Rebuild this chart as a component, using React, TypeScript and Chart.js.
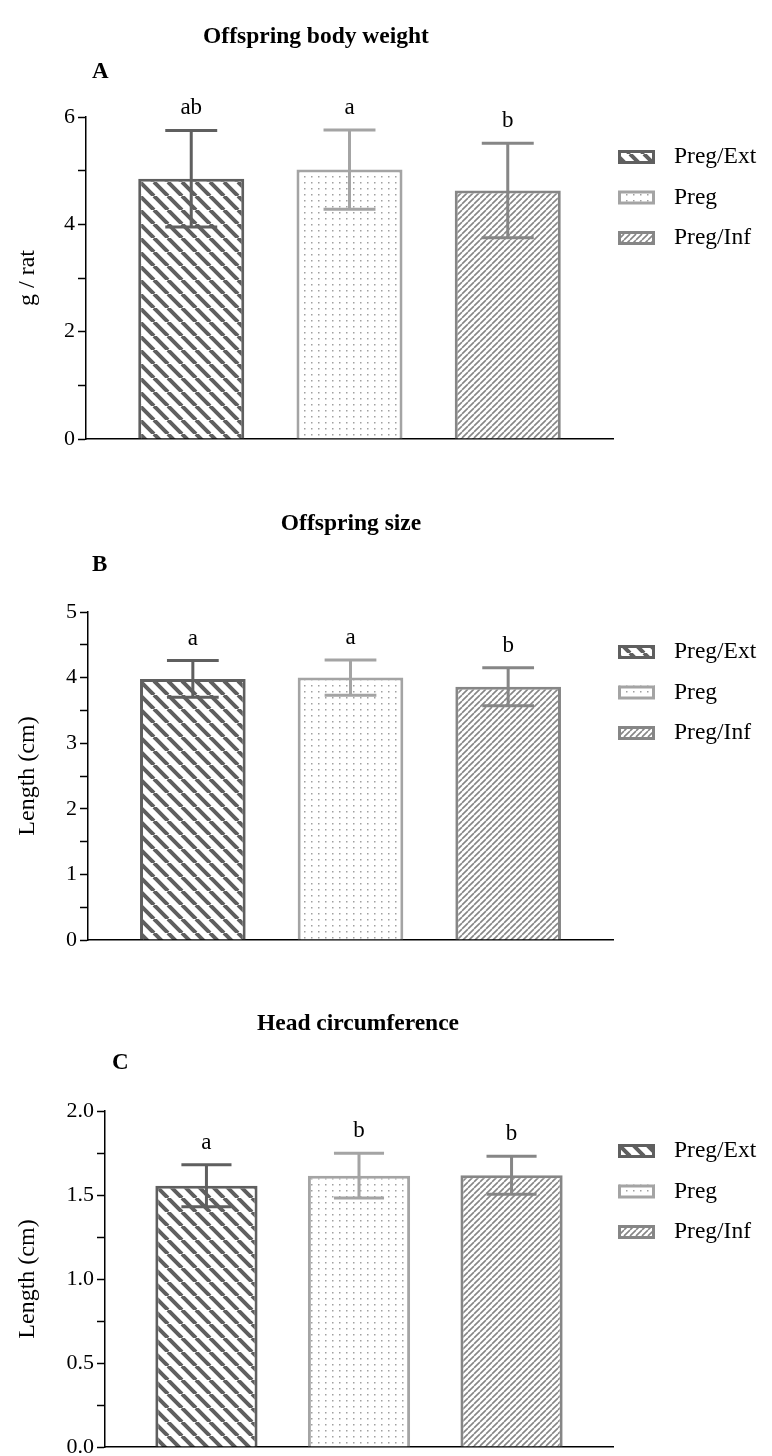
import { useEffect, useRef } from 'react';
import { Chart, registerables } from 'chart.js';

Chart.register(...registerables);

// ---------- data ----------
const groups = ['Preg/Ext', 'Preg', 'Preg/Inf'];
const groupColors = ['#5f5f5f', '#a4a4a4', '#868686'];

const weightMeans = [4.85, 5.02, 4.63];
const weightErrors = [0.9, 0.74, 0.88];
const weightLetters = ['ab', 'a', 'b'];

const sizeMeans = [3.98, 4.0, 3.86];
const sizeErrors = [0.28, 0.27, 0.29];
const sizeLetters = ['a', 'a', 'b'];

const headMeans = [1.555, 1.615, 1.617];
const headErrors = [0.125, 0.133, 0.113];
const headLetters = ['a', 'b', 'b'];

const FONT = "'Liberation Serif', 'Times New Roman', serif";

type Panel = {
  title: string;
  letter: string;
  yLabel: string;
  means: number[];
  errors: number[];
  letters: string[];
  yMax: number;
  yStep: number;
  labelStep: number;
  decimals: number;
  top: number;
  height: number;
  pad: { top: number; bottom: number; right: number };
  axisLeft: number;
  titleAt: [number, number];
  letterAt: [number, number];
};

const panels: Panel[] = [
  {
    title: 'Offspring body weight', letter: 'A', yLabel: 'g / rat',
    means: weightMeans, errors: weightErrors, letters: weightLetters,
    yMax: 6, yStep: 1, labelStep: 2, decimals: 0,
    top: 0, height: 485, pad: { top: 117, bottom: 46, right: 159 }, axisLeft: 86,
    titleAt: [316, 37], letterAt: [100, 72],
  },
  {
    title: 'Offspring size', letter: 'B', yLabel: 'Length (cm)',
    means: sizeMeans, errors: sizeErrors, letters: sizeLetters,
    yMax: 5, yStep: 0.5, labelStep: 1, decimals: 0,
    top: 485, height: 490, pad: { top: 127, bottom: 35, right: 159 }, axisLeft: 88,
    titleAt: [351, 39], letterAt: [100, 80],
  },
  {
    title: 'Head circumference', letter: 'C', yLabel: 'Length (cm)',
    means: headMeans, errors: headErrors, letters: headLetters,
    yMax: 2, yStep: 0.25, labelStep: 0.5, decimals: 1,
    top: 960, height: 496, pad: { top: 151, bottom: 9, right: 159 }, axisLeft: 105,
    titleAt: [358, 64], letterAt: [120, 103],
  },
];

function makePattern(kind: number, target: CanvasRenderingContext2D) {
  const c = document.createElement('canvas');
  const x = c.getContext('2d')!;
  if (kind === 0) {
    const s = 14;
    c.width = s; c.height = s;
    x.fillStyle = '#ffffff'; x.fillRect(0, 0, s, s);
    x.strokeStyle = groupColors[0]; x.lineWidth = 4;
    x.beginPath();
    for (let k = -1; k <= 1; k++) { x.moveTo(k * s, 0); x.lineTo(k * s + s, s); }
    x.stroke();
  } else if (kind === 1) {
    c.width = 7; c.height = 6;
    x.fillStyle = '#ffffff'; x.fillRect(0, 0, 7, 6);
    x.fillStyle = '#a0a0a0'; x.fillRect(3, 2, 1.5, 1.5);
  } else {
    const s = 6;
    c.width = s; c.height = s;
    x.fillStyle = '#ffffff'; x.fillRect(0, 0, s, s);
    x.strokeStyle = groupColors[2]; x.lineWidth = 1.6;
    x.beginPath();
    for (let k = -1; k <= 1; k++) { x.moveTo(k * s, s); x.lineTo(k * s + s, 0); }
    x.stroke();
  }
  return target.createPattern(c, 'repeat')!;
}

function PanelChart({ p }: { p: Panel }) {
  const ref = useRef<HTMLCanvasElement>(null);
  useEffect(() => {
    const canvas = ref.current!;
    const ctx0 = canvas.getContext('2d')!;
    const patterns = [0, 1, 2].map((k) => makePattern(k, ctx0));

    const decor = {
      id: 'decor',
      afterDatasetsDraw(chart: any) {
        const ctx = chart.ctx as CanvasRenderingContext2D;
        const y = chart.scales.y;
        const meta = chart.getDatasetMeta(0);
        ctx.save();
        meta.data.forEach((bar: any, i: number) => {
          const m = p.means[i];
          const e = p.errors[i];
          const yt = y.getPixelForValue(m + e);
          const yb = y.getPixelForValue(m - e);
          const half = bar.width * 0.245;
          ctx.strokeStyle = groupColors[i];
          ctx.lineWidth = 3;
          ctx.lineCap = 'butt';
          ctx.beginPath();
          ctx.moveTo(bar.x, yt); ctx.lineTo(bar.x, yb);
          ctx.moveTo(bar.x - half, yt); ctx.lineTo(bar.x + half, yt);
          ctx.moveTo(bar.x - half, yb); ctx.lineTo(bar.x + half, yb);
          ctx.stroke();
          ctx.fillStyle = '#000';
          ctx.font = `23px ${FONT}`;
          ctx.textAlign = 'center';
          ctx.textBaseline = 'middle';
          ctx.fillText(p.letters[i], bar.x, yt - 22);
        });
        ctx.restore();
      },
      afterDraw(chart: any) {
        const ctx = chart.ctx as CanvasRenderingContext2D;
        const area = chart.chartArea;
        ctx.save();
        ctx.fillStyle = '#000';
        ctx.textBaseline = 'middle';
        ctx.textAlign = 'center';
        ctx.font = `bold 23.5px ${FONT}`;
        ctx.fillText(p.title, p.titleAt[0], p.titleAt[1]);
        ctx.textAlign = 'left';
        ctx.font = `bold 23px ${FONT}`;
        ctx.fillText(p.letter, p.letterAt[0] - 8, p.letterAt[1]);
        // legend
        const bx = area.right + 5;
        groups.forEach((g, i) => {
          const cy = area.top + 40 + i * 40.5;
          ctx.fillStyle = patterns[i];
          ctx.fillRect(bx, cy - 7, 37, 14);
          ctx.strokeStyle = groupColors[i];
          ctx.lineWidth = 3;
          ctx.strokeRect(bx + 1.5, cy - 5.5, 34, 11);
          ctx.fillStyle = '#000';
          ctx.font = `23.5px ${FONT}`;
          ctx.fillText(g, bx + 56, cy);
        });
        ctx.restore();
      },
    };

    const titleSize = 24;
    const chart = new Chart(canvas, {
      type: 'bar',
      data: {
        datasets: [
          {
            label: p.title,
            data: p.means.map((v, i) => ({ x: i, y: v })),
            backgroundColor: patterns as any,
            borderColor: groupColors,
            borderWidth: 3,
            barPercentage: 0.67,
            categoryPercentage: 1,
          },
        ],
      },
      options: {
        responsive: false,
        animation: false,
        devicePixelRatio: 1,
        layout: { padding: { top: p.pad.top, bottom: p.pad.bottom, right: p.pad.right, left: 0 } },
        plugins: { legend: { display: false }, tooltip: { enabled: false }, title: { display: false } },
        scales: {
          x: {
            type: 'linear',
            min: -0.665,
            max: 2.665,
            offset: false,
            ticks: { display: false, stepSize: 1, includeBounds: false },
            grid: { display: false, drawTicks: false },
            border: { display: true, color: '#000', width: 1.5 },
            afterFit: (s: any) => { s.height = 0; s.paddingLeft = 0; s.paddingRight = 0; },
          },
          y: {
            min: 0,
            max: p.yMax,
            ticks: {
              stepSize: p.yStep,
              autoSkip: false,
              color: '#000',
              padding: 3,
              font: { family: FONT, size: 22 },
              callback: (v: any) => {
                const r = v / p.labelStep;
                return Math.abs(r - Math.round(r)) < 1e-6 ? Number(v).toFixed(p.decimals) : '';
              },
            },
            grid: { drawOnChartArea: false, tickLength: 8, tickColor: '#000', tickWidth: 1.5 },
            border: { color: '#000', width: 1.5 },
            title: {
              display: true,
              text: p.yLabel,
              color: '#000',
              font: { family: FONT, size: titleSize, lineHeight: 1.2 },
              padding: { top: 28 - titleSize * 0.6, bottom: 0 },
            },
            afterFit: (s: any) => { s.width = p.axisLeft; s.paddingTop = 0; s.paddingBottom = 0; },
          },
        },
      } as any,
      plugins: [decor],
    });
    return () => chart.destroy();
  }, [p]);
  return (
    <canvas
      ref={ref}
      width={772}
      height={p.height}
      style={{ position: 'absolute', left: 0, top: p.top, width: 772, height: p.height }}
    />
  );
}

export default function App() {
  return (
    <div style={{ position: 'absolute', left: 0, top: 0, width: 772, height: 1456, background: '#fff' }}>
      {panels.map((p) => (
        <PanelChart key={p.letter} p={p} />
      ))}
    </div>
  );
}
